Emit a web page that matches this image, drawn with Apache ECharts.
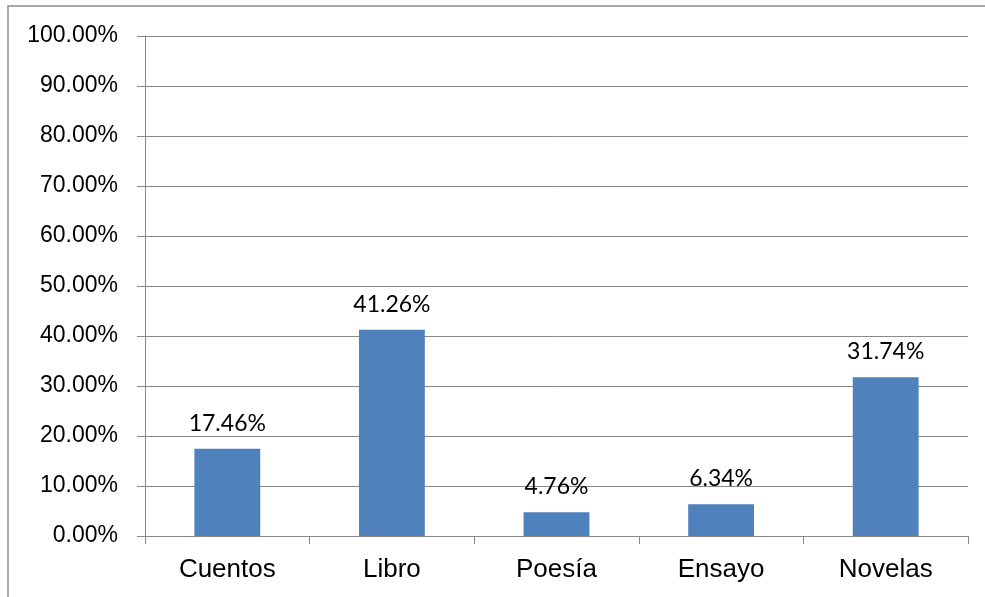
<!DOCTYPE html>
<html>
<head>
<meta charset="utf-8">
<script src="https://cdn.jsdelivr.net/npm/echarts@6/dist/echarts.min.js"></script>
<style>html,body{margin:0;padding:0;background:#fff;}#c{width:985px;height:597px;}</style>
</head>
<body>
<div id="c"></div>
<script>
const categories = ['Cuentos', 'Libro', 'Poesía', 'Ensayo', 'Novelas'];
const values = [17.46, 41.26, 4.76, 6.34, 31.74];
const yTicks = { min: 0, max: 100, interval: 10 };

const chart = echarts.init(document.getElementById('c'), null, { renderer: 'canvas' });
const gray = '#898989';
chart.setOption({
  animation: false,
  backgroundColor: '#fff',
  graphic: [{
    type: 'rect', silent: true, z: -1,
    shape: { x: 8, y: 6, width: 1100, height: 700 },
    style: { fill: 'none', stroke: '#8c8c8c', lineWidth: 1.5 }
  }],
  grid: { left: 145, right: 17, top: 36, bottom: 61 },
  xAxis: {
    type: 'category',
    data: categories,
    boundaryGap: true,
    axisLine: { lineStyle: { color: gray, width: 1 } },
    axisTick: { show: true, length: 8, alignWithLabel: false, lineStyle: { color: gray } },
    axisLabel: { color: '#000', fontFamily: 'Liberation Sans', fontSize: 26, margin: 21 }
  },
  yAxis: {
    type: 'value',
    min: yTicks.min, max: yTicks.max, interval: yTicks.interval,
    axisLine: { show: true, lineStyle: { color: gray, width: 1 } },
    axisTick: { show: true, length: 8, lineStyle: { color: gray } },
    splitLine: { show: true, lineStyle: { color: gray, width: 1 } },
    axisLabel: {
      color: '#000', fontFamily: 'Liberation Sans', fontSize: 23, margin: 27,
      formatter: v => v.toFixed(2) + '%'
    }
  },
  series: [{
    type: 'bar',
    data: values,
    barWidth: '40%',
    itemStyle: { color: '#4F81BD' },
    label: {
      show: true, position: 'top', distance: 14,
      color: '#000', fontFamily: 'Lato', fontSize: 23,
      formatter: p => p.value.toFixed(2) + '%'
    }
  }]
});
</script>
</body>
</html>
